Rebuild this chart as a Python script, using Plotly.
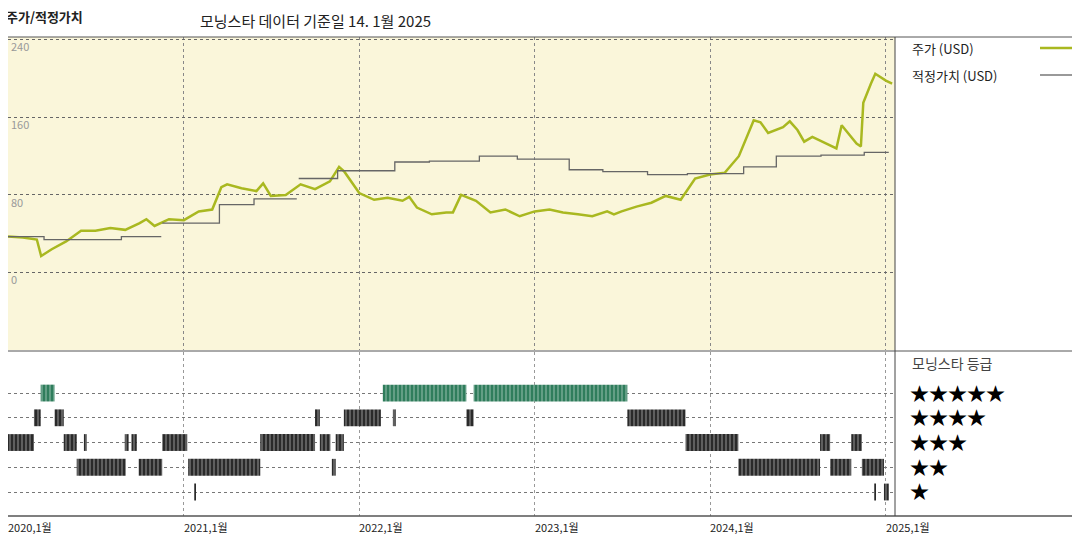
import plotly.graph_objects as go
import pandas as pd

# ---- data ----
price_dates = pd.date_range("2020-01-01", periods=61, freq="MS").strftime("%Y-%m-%d").tolist()
price_vals = [37, 36, 34, 24, 32, 43, 43, 46, 44, 51, 48, 55,
              54, 63, 65, 91, 87, 84, 79, 80, 91, 86, 94, 104,
              82, 75, 77, 74, 67, 60, 62, 80, 74, 62, 65, 58,
              63, 65, 62, 60, 58, 63, 63, 68, 72, 79, 75, 97,
              101, 103, 120, 157, 144, 150, 147, 140, 133, 152, 133, 195, 198]
extra_dates = ["2020-03-10", "2021-03-20", "2021-11-20", "2024-11-10", "2024-11-15", "2024-12-10", "2025-01-14",
               "2020-10-15", "2021-06-15", "2021-07-20", "2022-04-15", "2022-07-15", "2023-06-15",
               "2024-04-15", "2024-06-15", "2024-07-15", "2024-09-20"]
extra_vals = [17, 88, 109, 130, 175, 205, 195,
              55, 92, 80, 78, 62, 60,
              155, 156, 135, 128]

fv_dates = ["2020-01-01", "2020-03-16", "2020-08-24", "2020-11-15", "2020-11-16",
            "2020-11-17", "2021-03-16", "2021-05-27", "2021-08-24", "2021-08-26",
            "2021-08-28", "2021-11-17", "2022-03-16", "2022-05-27", "2022-09-08",
            "2022-11-26", "2023-03-14", "2023-05-23", "2023-08-24", "2023-11-15",
            "2024-03-11", "2024-05-18", "2024-08-19", "2024-11-17", "2025-01-07"]
fv_vals = [37, 34, 37, 37, None,
           51, 70, 76, 76, None,
           97, 105, 114, 115, 120,
           117, 106, 104, 101, 102,
           109, 120, 121, 124, 124]

rating_start = ["2020-03-09", "2022-02-19", "2022-08-27",
                "2020-02-24", "2020-04-07", "2021-10-01", "2021-11-30", "2022-03-12", "2022-08-12", "2023-07-13",
                "2020-01-01", "2020-04-26", "2020-06-07", "2020-08-31", "2020-09-14", "2020-11-17", "2021-06-09",
                "2021-10-11", "2021-11-13", "2023-11-11", "2024-08-17", "2024-10-21",
                "2020-05-23", "2020-09-29", "2021-01-10", "2021-11-05", "2024-02-29", "2024-09-07", "2024-11-12",
                "2021-01-24", "2024-12-08", "2024-12-28"]
rating_end = ["2020-04-07", "2022-08-12", "2023-07-13",
              "2020-03-09", "2020-04-26", "2021-10-11", "2022-02-15", "2022-03-18", "2022-08-27", "2023-11-11",
              "2020-02-24", "2020-05-23", "2020-06-13", "2020-09-08", "2020-09-25", "2021-01-08", "2021-10-01",
              "2021-11-02", "2021-11-30", "2024-02-29", "2024-09-07", "2024-11-12",
              "2020-09-02", "2020-11-17", "2021-06-09", "2021-11-13", "2024-08-17", "2024-10-21", "2024-12-28",
              "2021-01-26", "2024-12-10", "2025-01-07"]
rating_stars = [5, 5, 5,
                4, 4, 4, 4, 4, 4, 4,
                3, 3, 3, 3, 3, 3, 3, 3, 3, 3, 3, 3,
                2, 2, 2, 2, 2, 2, 2,
                1, 1, 1]

year_ticks = ["2020-01-01", "2021-01-01", "2022-01-01", "2023-01-01", "2024-01-01", "2025-01-01"]
year_labels = ["2020,1월", "2021,1월", "2022,1월", "2023,1월", "2024,1월", "2025,1월"]
y_ticks = [0, 80, 160, 240]
star_labels = ["★★★★★", "★★★★", "★★★", "★★", "★"]

# ---- build ----
FONT = "Noto Sans CJK KR"
W, H = 1072, 532
L, R, T, B = 0, 185, 29, 24
PW, PH = W - L - R, H - T - B
OX, OY = 8, 8  # page offset


def px(x):
    return (x - OX - L) / PW


def py(y):
    return (H - B - (y - OY)) / PH


pts = sorted(zip(price_dates + extra_dates, price_vals + extra_vals))
fig = go.Figure()
fig.add_trace(go.Scatter(x=[p[0] for p in pts], y=[p[1] for p in pts], mode="lines",
                         line=dict(color="#a9b820", width=2.5), xaxis="x", yaxis="y", hoverinfo="skip"))
fig.add_trace(go.Scatter(x=fv_dates, y=fv_vals, mode="lines", line=dict(color="#666666", width=1.3, shape="hv"),
                         connectgaps=False, xaxis="x", yaxis="y", hoverinfo="skip"))

durs = [(pd.Timestamp(e) - pd.Timestamp(s)).total_seconds() * 1000 for s, e in zip(rating_start, rating_end)]
colors = ["#2f7d5c" if s == 5 else "#2a2a2a" for s in rating_stars]
fig.add_trace(go.Bar(y=rating_stars, x=durs, base=rating_start, orientation="h", width=0.68,
                     marker=dict(color=colors, line=dict(width=0),
                                 pattern=dict(shape="|", fgcolor="#9a9a9a", size=4, solidity=0.25)),
                     xaxis="x2", yaxis="y2", hoverinfo="skip"))

xr = ["2020-01-01", "2025-01-20"]
top_lo = py(350)
bot_hi = py(352)
fig.update_layout(
    width=W, height=H, margin=dict(l=L, r=R, t=T, b=B, autoexpand=False),
    paper_bgcolor="white", showlegend=False, font=dict(family=FONT, color="#222"),
    xaxis=dict(domain=[0, 1], range=xr, type="date", tickvals=year_ticks, showticklabels=False,
               showgrid=True, gridcolor="#888", griddash="dot", gridwidth=1, zeroline=False, anchor="y"),
    yaxis=dict(domain=[top_lo, 1], range=[-80, 243], tickvals=y_ticks, ticklabelposition="inside bottom",
               tickfont=dict(size=11, color="#999"), showgrid=True, gridcolor="#666", griddash="dot",
               zeroline=False, anchor="x"),
    xaxis2=dict(domain=[0, 1], range=xr, type="date", tickvals=year_ticks, showticklabels=False,
                showgrid=True, gridcolor="#999", griddash="dot", zeroline=False, anchor="y2"),
    yaxis2=dict(domain=[0, bot_hi], range=[0.03, 6.66], tickvals=[1, 2, 3, 4, 5], showticklabels=False,
                showgrid=True, gridcolor="#777", griddash="dot", zeroline=False, anchor="x2"),
    plot_bgcolor="white",
)

shapes = [
    dict(type="rect", xref="x", yref="y domain", x0=xr[0], x1=xr[1], y0=0, y1=1,
         fillcolor="#faf6da", line=dict(width=0), layer="below"),
    dict(type="line", xref="paper", yref="paper", x0=px(0), x1=px(1080), y0=1, y1=1, line=dict(color="#555", width=1)),
    dict(type="line", xref="paper", yref="paper", x0=px(0), x1=px(1080), y0=py(351), y1=py(351), line=dict(color="#555", width=1)),
    dict(type="line", xref="paper", yref="paper", x0=px(0), x1=px(1080), y0=0, y1=0, line=dict(color="#555", width=1.5)),
    dict(type="line", xref="paper", yref="paper", x0=1, x1=1, y0=0, y1=1, line=dict(color="#444", width=1)),
    dict(type="line", xref="paper", yref="paper", x0=px(1040), x1=px(1075), y0=py(48), y1=py(48), line=dict(color="#a9b820", width=2.5)),
    dict(type="line", xref="paper", yref="paper", x0=px(1040), x1=px(1075), y0=py(75), y1=py(75), line=dict(color="#777", width=1.3)),
]
fig.update_layout(shapes=shapes)

ann = [
    dict(text="<b>주가/적정가치</b>", x=4, y=17, size=13, color="#222"),
    dict(text="모닝스타 데이터 기준일 14. 1월 2025", x=198, y=20, size=15, color="#222"),
    dict(text="주가 (USD)", x=910, y=48, size=13, color="#222"),
    dict(text="적정가치 (USD)", x=910, y=75, size=13, color="#222"),
    dict(text="모닝스타 등급", x=910, y=363, size=14, color="#444"),
]
for i, s in enumerate(star_labels):
    ann.append(dict(text=s, x=908, y=392 + i * 24.7, size=19, color="#000"))
annotations = []
for a in ann:
    annotations.append(dict(text=a["text"], xref="paper", yref="paper", x=px(a["x"]),
                            y=py(a["y"]), xanchor="left", yanchor="middle", showarrow=False,
                            font=dict(size=a["size"], color=a["color"], family=FONT)))
for d, lab in zip(year_ticks, year_labels):
    annotations.append(dict(text=lab, xref="x2", yref="paper", x=d, y=0, xanchor="left", yanchor="top",
                            showarrow=False, xshift=-2, yshift=-1, font=dict(size=11, color="#222", family=FONT)))
fig.update_layout(annotations=annotations)

fig.write_html("out.html")
